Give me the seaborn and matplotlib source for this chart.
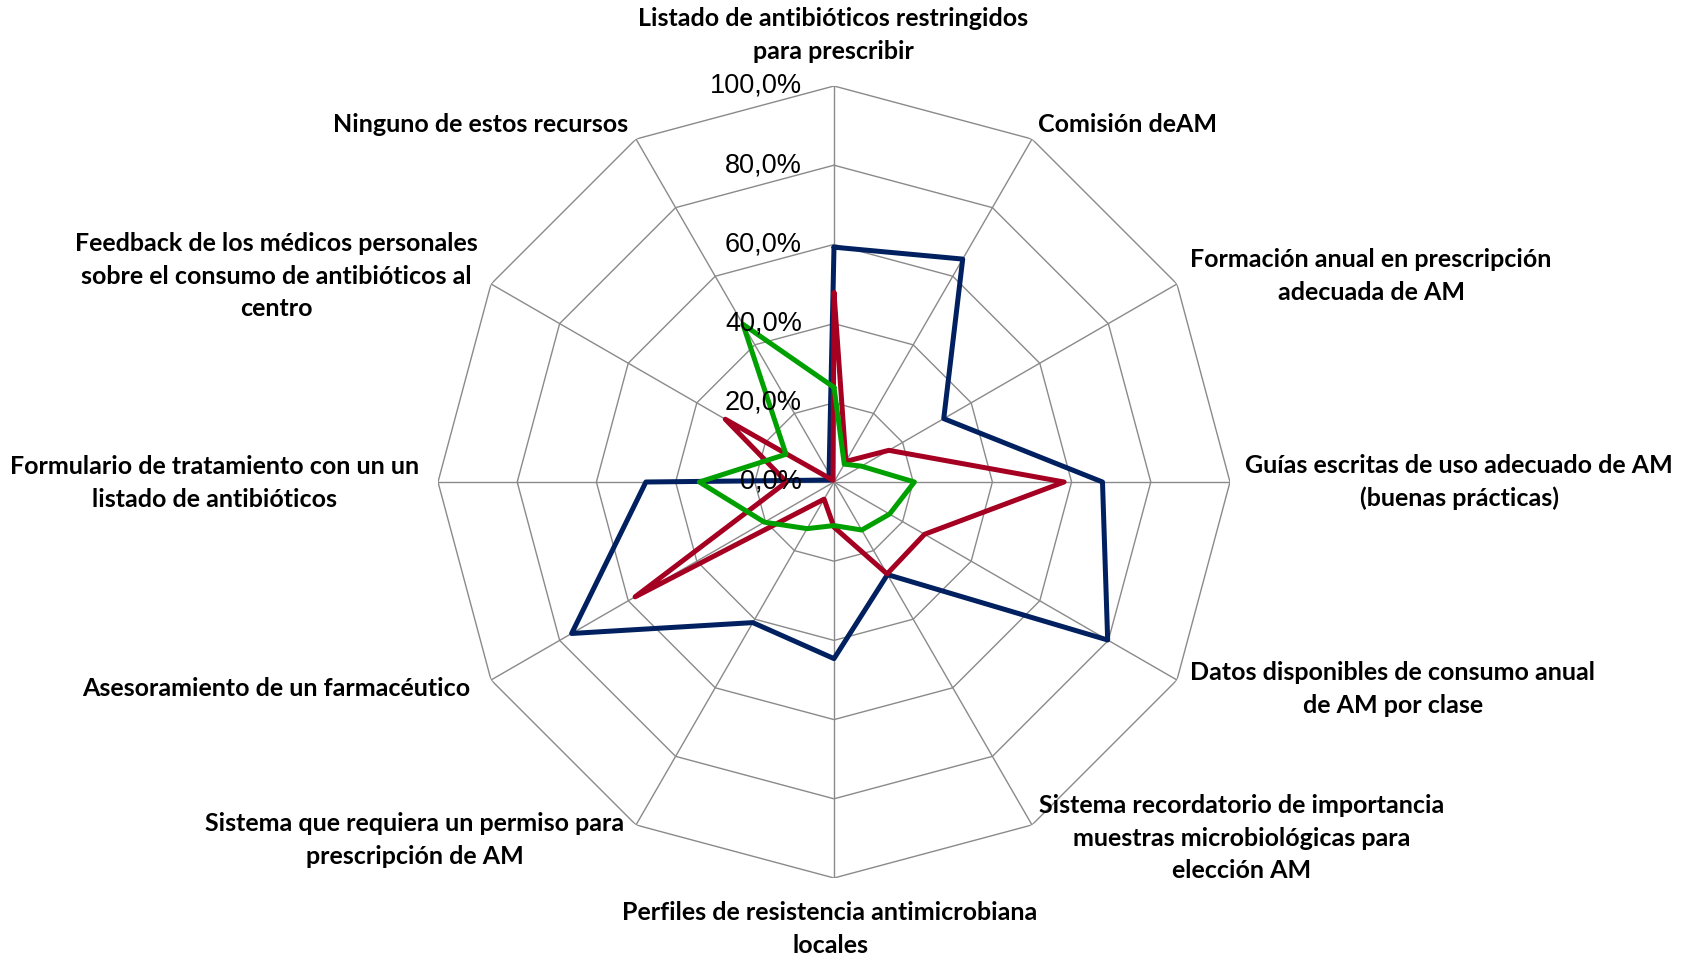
import numpy as np
import pandas as pd
import matplotlib
matplotlib.use("Agg")
import matplotlib.pyplot as plt
import seaborn as sns

# Recursos para el uso adecuado de antimicrobianos (orden horario desde arriba)
categorias = [
    "Listado de antibióticos restringidos\npara prescribir",
    "Comisión deAM",
    "Formación anual en prescripción\nadecuada de AM",
    "Guías escritas de uso adecuado de AM\n(buenas prácticas)",
    "Datos disponibles de consumo anual\nde AM por clase",
    "Sistema recordatorio de importancia\nmuestras microbiológicas para\nelección AM",
    "Perfiles de resistencia antimicrobiana\nlocales",
    "Sistema que requiera un permiso para\nprescripción de AM",
    "Asesoramiento de un farmacéutico",
    "Formulario de tratamiento con un un\nlistado de antibióticos",
    "Feedback de los médicos personales\nsobre el consumo de antibióticos al\ncentro",
    "Ninguno de estos recursos",
]

# Porcentajes por serie
serie_azul = [59.3, 65.0, 32.0, 67.8, 79.8, 27.0, 44.6, 41.0, 76.5, 47.5, 1.0, 2.5]
serie_roja = [47.8, 6.0, 16.0, 58.1, 26.4, 26.8, 11.4, 5.0, 58.0, 12.0, 31.7, 0.5]
serie_verde = [23.9, 5.2, 8.0, 20.3, 16.2, 14.0, 11.0, 13.6, 20.3, 34.0, 14.0, 46.0]

series = {"Azul": serie_azul, "Roja": serie_roja, "Verde": serie_verde}
colores = {"Azul": "#002060", "Roja": "#A50021", "Verde": "#00A000"}

niveles = [0, 20, 40, 60, 80, 100]
etiquetas_niveles = ["0,0%", "20,0%", "40,0%", "60,0%", "80,0%", "100,0%"]

sns.set_theme(style="white")
plt.rcParams["font.family"] = ["Lato", "DejaVu Sans"]

W, H = 1688, 960
fig = plt.figure(figsize=(W / 100, H / 100), dpi=100)
fig.patch.set_facecolor("white")

cx, cy, rad = 834, 482, 396
ax = fig.add_axes([(cx - rad) / W, (H - cy - rad) / H, 2 * rad / W, 2 * rad / H],
                  projection="polar")
ax.set_theta_offset(np.pi / 2)
ax.set_theta_direction(-1)
ax.set_ylim(0, 100)
ax.grid(False)
ax.spines["polar"].set_visible(False)
ax.set_xticks([])
ax.set_yticks([])
ax.set_facecolor("none")

n = len(categorias)
theta = np.arange(n) * 2 * np.pi / n
theta_cerrado = np.append(theta, 2 * np.pi)

# Rejilla poligonal y radios
gris = "#8a8a8a"
for r in niveles[1:]:
    ax.plot(theta_cerrado, [r] * (n + 1), color=gris, lw=1.0, zorder=1)
for t in theta:
    ax.plot([t, t], [0, 100], color=gris, lw=1.0, zorder=1)

# Datos en formato largo, cerrando cada polígono
filas = []
for nombre, valores in series.items():
    vals = list(valores) + [valores[0]]
    for i, (t, v) in enumerate(zip(theta_cerrado, vals)):
        filas.append({"serie": nombre, "theta": t, "valor": v, "orden": i})
df = pd.DataFrame(filas)

sns.lineplot(data=df, x="theta", y="valor", hue="serie", palette=colores,
             sort=False, estimator=None, linewidth=3.6, legend=False, ax=ax,
             zorder=3)
ax.set_xlabel("")
ax.set_ylabel("")

# Etiquetas de escala
for r, lab in zip(niveles, etiquetas_niveles):
    ax.annotate(lab, xy=(0, r), xytext=(-23, 0), textcoords="offset points",
                ha="right", va="center", fontsize=19.5,
                family=["Liberation Sans", "DejaVu Sans"], color="black",
                zorder=4)

# Etiquetas de categoría
pos_etiquetas = [
    (833, 35), (1127, 125), (1371, 276), (1459, 482), (1393, 689), (1242, 838),
    (830, 929), (415, 840), (276, 688), (215, 483), (276, 276), (481, 125),
]
for texto, (px, py) in zip(categorias, pos_etiquetas):
    fig.text(px / W, 1 - py / H, texto, ha="center", va="center",
             multialignment="center", fontsize=18, fontweight="bold",
             linespacing=1.5, color="black")

fig.savefig("out.png", dpi=100, facecolor="white")
